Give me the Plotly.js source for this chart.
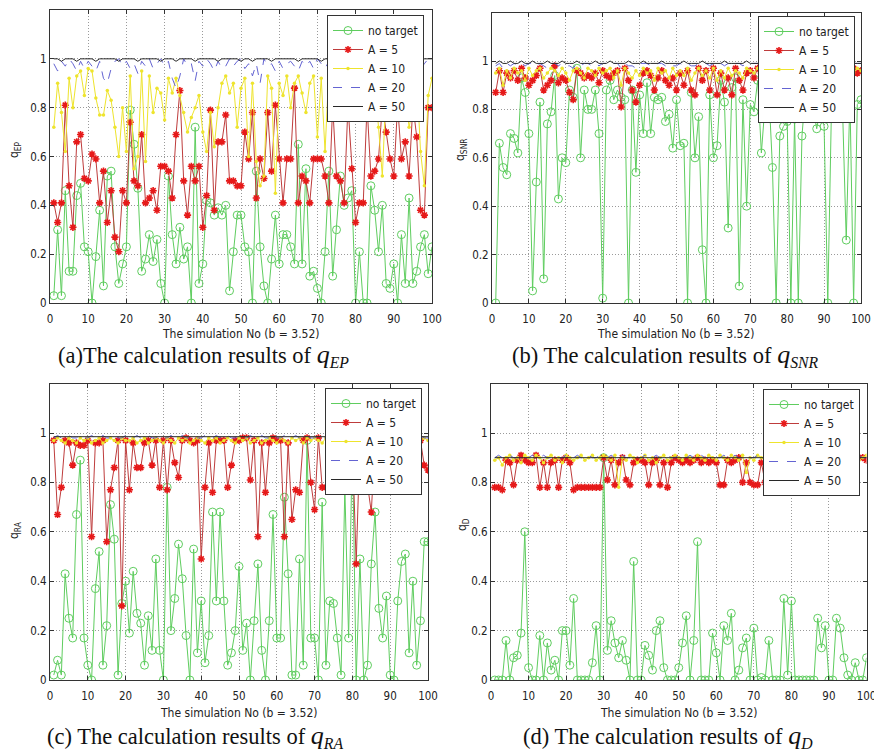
<!DOCTYPE html>
<html>
<head>
<meta charset="utf-8">
<script src="https://cdn.plot.ly/plotly-3.0.1.min.js"></script>
<style>html,body{margin:0;padding:0;background:#fff;}#chart{width:874px;height:752px;}</style>
</head>
<body>
<div id="chart"></div>
<script>
// ---------- DATA ----------
const SERIES_NAMES = ["no target", "A = 5", "A = 10", "A = 20", "A = 50"];
const X_TICKS = [0,10,20,30,40,50,60,70,80,90,100];
const Y_TICKS = [0,0.2,0.4,0.6,0.8,1];
const X_TITLE = "The simulation No (b = 3.52)";
const Y_TITLES = ["q<sub>EP</sub>", "q<sub>SNR</sub>", "q<sub>RA</sub>", "q<sub>D</sub>"];
const CAPTIONS = [
  "(a)The calculation results of <span style='font-size:26px'><i>q</i></span><sub><i>EP</i></sub>",
  "(b) The calculation results of <span style='font-size:26px'><i>q</i></span><sub><i>SNR</i></sub>",
  "(c) The calculation results of <span style='font-size:26px'><i>q</i></span><sub><i>RA</i></sub>",
  "(d) The calculation results of <span style='font-size:26px'><i>q</i></span><sub><i>D</i></sub>"
];

// (a) q_EP
const GREEN_A = [0.03,0.30,0.03,0.46,0.13,0.13,0.44,0.49,0.23,0.21,
0.00,0.19,0.38,0.07,0.52,0.54,0.23,0.08,0.16,0.23,
0.79,0.65,0.47,0.13,0.18,0.28,0.17,0.26,0.08,0.00,
0.52,0.28,0.16,0.31,0.18,0.23,0.00,0.72,0.08,0.16,
0.42,0.41,0.36,0.39,0.36,0.40,0.05,0.21,0.36,0.36,
0.23,0.21,0.00,0.54,0.23,0.07,0.00,0.18,0.36,0.16,
0.28,0.28,0.23,0.16,0.65,0.16,0.55,0.11,0.13,0.06,
0.00,0.21,0.54,0.11,0.30,0.52,0.40,0.43,0.46,0.00,
0.21,0.00,0.00,0.48,0.38,0.21,0.40,0.08,0.06,0.16,
0.00,0.28,0.08,0.43,0.08,0.13,0.23,0.28,0.12,0.23];
const RED_A = [0.41,0.33,0.41,0.81,0.48,0.31,0.66,0.69,0.51,0.50,
0.61,0.59,0.41,0.54,0.33,0.46,0.27,0.21,0.46,0.41,
0.74,0.50,0.48,0.69,0.41,0.43,0.46,0.38,0.56,0.56,
0.54,0.43,0.69,0.87,0.50,0.36,0.56,0.50,0.56,0.31,
0.44,0.79,0.38,0.66,0.66,0.77,0.50,0.50,0.48,0.48,
0.70,0.59,0.78,0.43,0.59,0.51,0.78,0.54,0.81,0.59,
0.41,0.59,0.59,0.88,0.41,0.52,0.50,0.41,0.59,0.59,
0.59,0.52,0.41,0.81,0.52,0.50,0.41,0.81,0.55,0.33,
0.41,0.41,0.81,0.52,0.54,0.59,0.81,0.70,0.59,0.52,
0.81,0.59,0.66,0.52,0.81,0.68,0.38,0.36,0.80,0.80];
const YELLOW_A = [0.72,0.90,0.78,0.62,0.92,0.80,0.93,0.95,0.85,0.96,
0.95,0.84,0.77,0.77,0.87,0.83,0.72,0.60,0.80,0.62,
0.93,0.55,0.60,0.95,0.58,0.93,0.78,0.88,0.86,0.75,
0.92,0.86,0.92,0.85,0.78,0.70,0.76,0.80,0.85,0.70,
0.62,0.78,0.64,0.80,0.90,0.93,0.86,0.90,0.72,0.88,
0.92,0.60,0.90,0.58,0.48,0.52,0.93,0.88,0.45,0.90,
0.85,0.93,0.80,0.90,0.93,0.86,0.78,0.90,0.93,0.68,
0.92,0.62,0.95,0.75,0.88,0.92,0.85,0.90,0.94,0.80,
0.93,0.88,0.95,0.82,0.90,0.72,0.52,0.88,0.93,0.78,
0.90,0.95,0.85,0.72,0.80,0.93,0.62,0.48,0.85,0.92];
const BLUE_A = [0.98,0.95,0.99,0.97,1.00,0.98,0.95,0.99,0.96,0.99,
0.97,0.95,0.99,0.92,0.90,0.96,0.99,1.00,0.97,0.99,
0.96,0.98,0.94,0.99,0.97,1.00,0.96,0.98,1.00,0.97,
0.99,0.92,0.88,0.93,1.00,0.97,0.98,0.91,0.99,0.97,
1.00,0.98,0.95,0.99,0.96,0.97,1.00,0.97,0.99,1.00,
0.96,0.98,0.93,0.98,0.90,1.00,0.97,0.98,0.95,0.99,
0.96,0.98,0.99,0.97,0.95,0.99,0.97,0.99,0.96,1.00,
0.98,0.96,0.99,1.00,0.97,0.99,0.98,0.95,0.99,0.97,
1.00,0.98,0.96,0.99,0.97,1.00,0.95,0.98,0.99,0.97,
0.99,0.96,1.00,0.98,0.97,0.99,0.96,0.98,1.00,0.99];
const BLACK_A = [1.00,1.00,0.99,1.00,1.00,1.00,0.99,1.00,1.00,1.00,
1.00,0.99,1.00,1.00,1.00,1.00,1.00,0.99,1.00,1.00,
1.00,1.00,0.99,1.00,1.00,1.00,1.00,1.00,0.99,1.00,
1.00,1.00,0.99,1.00,1.00,1.00,1.00,0.99,1.00,1.00,
1.00,1.00,1.00,0.99,1.00,1.00,1.00,1.00,1.00,0.99,
1.00,1.00,0.99,1.00,1.00,1.00,1.00,0.99,1.00,1.00,
1.00,1.00,1.00,1.00,0.99,1.00,1.00,1.00,1.00,1.00,
0.99,1.00,1.00,1.00,1.00,0.99,1.00,1.00,1.00,1.00,
1.00,1.00,0.99,1.00,1.00,1.00,1.00,1.00,0.99,1.00,
1.00,1.00,1.00,0.99,1.00,1.00,1.00,1.00,1.00,1.00];

// (b) q_SNR
const GREEN_B = [0.00,0.66,0.56,0.53,0.70,0.68,0.62,0.93,0.87,0.70,
0.05,0.50,0.83,0.10,0.74,0.79,0.94,0.43,0.60,0.58,
0.88,0.85,0.97,0.60,0.88,0.80,0.80,0.88,0.70,0.02,
0.88,0.92,0.84,0.88,0.85,0.84,0.00,0.88,0.54,0.86,
0.70,0.91,0.70,0.85,0.84,0.85,0.75,0.78,0.64,0.84,
0.65,0.66,0.00,0.87,0.60,0.77,0.22,0.00,0.86,0.60,
0.65,0.92,0.83,0.31,0.89,0.93,0.07,0.84,0.40,0.82,
0.79,0.92,0.62,0.82,0.88,0.56,0.00,0.69,0.73,0.75,
0.00,0.76,0.00,0.69,0.88,0.90,0.81,0.72,0.81,0.73,
0.00,0.81,0.85,0.79,0.80,0.26,0.85,0.00,0.82,0.84];
const RED_B = [0.87,0.96,0.87,0.95,0.93,0.96,0.92,0.97,0.93,0.90,
0.92,0.94,0.97,0.88,0.90,0.92,0.98,0.91,0.93,0.92,
0.87,0.84,0.96,0.95,0.93,0.94,0.93,0.95,0.91,0.96,
0.94,0.93,0.95,0.96,0.81,0.97,0.92,0.88,0.83,0.90,
0.95,0.96,0.94,0.88,0.93,0.96,0.92,0.90,0.93,0.88,
0.95,0.90,0.96,0.88,0.86,0.97,0.92,0.96,0.88,0.97,
0.86,0.95,0.88,0.93,0.86,0.97,0.92,0.88,0.95,0.96,
0.93,0.97,0.95,0.92,0.96,0.97,0.94,0.96,0.93,0.95,
0.97,0.92,0.96,0.94,0.97,0.95,0.93,0.96,0.94,0.97,
0.95,0.92,0.96,0.97,0.94,0.96,0.95,0.97,0.95,0.96];
const YELLOW_B = [0.95,0.97,0.90,0.96,0.93,0.97,0.95,0.96,0.92,0.97,
0.94,0.96,0.97,0.93,0.95,0.97,0.96,0.94,0.97,0.95,
0.92,0.96,0.97,0.95,0.93,0.97,0.96,0.94,0.97,0.95,
0.96,0.97,0.93,0.96,0.90,0.97,0.95,0.93,0.96,0.94,
0.97,0.95,0.96,0.92,0.97,0.95,0.96,0.93,0.97,0.94,
0.96,0.94,0.97,0.92,0.95,0.97,0.94,0.96,0.93,0.97,
0.92,0.96,0.93,0.97,0.94,0.96,0.95,0.93,0.97,0.96,
0.95,0.97,0.96,0.94,0.97,0.96,0.95,0.97,0.94,0.96,
0.97,0.95,0.96,0.97,0.95,0.96,0.94,0.97,0.96,0.95,
0.97,0.94,0.96,0.97,0.95,0.97,0.96,0.95,0.97,0.96];
const BLUE_B = [0.98,0.99,0.97,0.99,0.98,0.99,0.98,0.99,0.98,0.99,
0.99,0.98,0.99,0.98,0.97,0.99,0.99,0.98,0.99,0.98,
0.98,0.97,0.99,0.98,0.99,0.99,0.98,0.99,0.98,0.99,
0.99,0.98,0.99,0.99,0.97,0.99,0.98,0.98,0.97,0.99,
0.99,0.99,0.98,0.98,0.99,0.99,0.98,0.99,0.98,0.98,
0.99,0.98,0.99,0.98,0.98,0.99,0.99,0.99,0.98,0.99,
0.98,0.99,0.98,0.99,0.98,0.99,0.99,0.98,0.99,0.99,
0.99,0.99,0.99,0.98,0.99,0.99,0.99,0.99,0.98,0.99,
0.99,0.98,0.99,0.99,0.99,0.99,0.98,0.99,0.99,0.99,
0.99,0.98,0.99,0.99,0.99,0.99,0.99,0.99,0.99,0.99];
const BLACK_B = [0.99,1.00,0.99,0.99,1.00,0.99,0.99,1.00,0.99,0.99,
1.00,0.99,0.99,0.99,1.00,0.99,0.99,0.99,1.00,0.99,
0.99,0.99,1.00,0.99,0.99,0.99,0.99,1.00,0.99,0.99,
0.99,1.00,0.99,0.99,0.99,0.99,1.00,0.99,0.99,0.99,
1.00,0.99,0.99,0.99,0.99,1.00,0.99,0.99,0.99,0.99,
0.99,1.00,0.99,0.99,0.99,0.99,1.00,0.99,0.99,0.99,
0.99,0.99,1.00,0.99,0.99,0.99,0.99,0.99,1.00,0.99,
0.99,0.99,0.99,1.00,0.99,0.99,0.99,0.99,0.99,1.00,
0.99,0.99,0.99,0.99,1.00,0.99,0.99,0.99,0.99,0.99,
1.00,0.99,0.99,0.99,0.99,0.99,1.00,0.99,0.99,0.99];

// (c) q_RA
const GREEN_C = [0.02,0.08,0.02,0.43,0.25,0.17,0.67,0.89,0.17,0.06,
0.00,0.37,0.52,0.06,0.22,0.71,0.57,0.02,0.31,0.40,
0.19,0.44,0.27,0.23,0.06,0.26,0.12,0.49,0.12,0.00,
0.78,0.20,0.33,0.55,0.41,0.18,0.00,0.53,0.11,0.32,
0.07,0.18,0.68,0.32,0.68,0.32,0.06,0.11,0.20,0.46,
0.12,0.23,0.00,0.24,0.47,0.12,0.00,0.24,0.67,0.17,
0.17,0.74,0.43,0.02,0.02,0.49,0.06,0.97,0.17,0.17,
0.00,0.72,0.06,0.32,0.31,0.17,0.02,0.78,0.17,0.97,
0.00,0.49,0.00,0.06,0.47,0.68,0.29,0.17,0.34,0.02,
0.00,0.32,0.48,0.51,0.11,0.40,0.06,0.24,0.56,0.56];
const RED_C = [0.97,0.67,0.78,0.97,0.96,0.87,0.96,0.95,0.95,0.97,
0.58,0.96,0.96,0.97,0.56,0.77,0.86,0.97,0.30,0.97,
0.77,0.96,0.86,0.86,0.96,0.97,0.87,0.97,0.78,0.97,
0.77,0.97,0.88,0.82,0.97,0.98,0.97,0.96,0.97,0.49,
0.78,0.96,0.76,0.97,0.97,0.97,0.78,0.87,0.97,0.97,
0.98,0.98,0.81,0.97,0.58,0.96,0.76,0.96,0.98,0.97,
0.97,0.58,0.96,0.65,0.77,0.76,0.97,0.98,0.80,0.69,
0.98,0.78,0.78,0.97,0.97,0.79,0.79,0.97,0.97,0.97,
0.47,0.97,0.97,0.79,0.68,0.97,0.81,0.97,0.79,0.97,
0.79,0.97,0.97,0.79,0.97,0.97,0.97,0.97,0.87,0.85];
const YELLOW_C = [0.97,0.98,0.97,0.96,0.98,0.97,0.96,0.98,0.97,0.98,
0.96,0.97,0.98,0.96,0.97,0.98,0.97,0.96,0.98,0.97,
0.97,0.98,0.96,0.97,0.98,0.96,0.97,0.98,0.97,0.96,
0.98,0.97,0.96,0.98,0.97,0.98,0.96,0.97,0.98,0.97,
0.96,0.98,0.97,0.98,0.96,0.97,0.98,0.97,0.96,0.98,
0.97,0.98,0.96,0.97,0.98,0.96,0.97,0.98,0.97,0.96,
0.98,0.97,0.96,0.98,0.97,0.98,0.96,0.98,0.97,0.98,
0.97,0.96,0.98,0.97,0.98,0.96,0.97,0.98,0.97,0.96,
0.98,0.97,0.98,0.96,0.97,0.98,0.97,0.96,0.98,0.97,
0.98,0.96,0.97,0.98,0.97,0.96,0.98,0.97,0.98,0.97];
const BLUE_C = [0.98,0.99,0.98,0.98,0.99,0.98,0.98,0.99,0.98,0.98,
0.99,0.98,0.98,0.99,0.98,0.98,0.99,0.98,0.98,0.99,
0.98,0.98,0.99,0.98,0.98,0.99,0.98,0.98,0.99,0.98,
0.98,0.99,0.98,0.98,0.99,0.98,0.98,0.99,0.98,0.98,
0.99,0.98,0.98,0.99,0.98,0.98,0.99,0.98,0.98,0.99,
0.98,0.98,0.99,0.98,0.98,0.99,0.98,0.98,0.99,0.98,
0.98,0.99,0.98,0.98,0.99,0.98,0.98,0.99,0.98,0.98,
0.99,0.98,0.98,0.99,0.98,0.98,0.99,0.98,0.98,0.99,
0.98,0.98,0.99,0.98,0.98,0.99,0.98,0.98,0.99,0.98,
0.98,0.99,0.98,0.98,0.99,0.98,0.98,0.99,0.98,0.98];
const BLACK_C = [0.985,0.985,0.985,0.985,0.985,0.985,0.985,0.985,0.985,0.985,
0.985,0.985,0.985,0.985,0.985,0.985,0.985,0.985,0.985,0.985,
0.985,0.985,0.985,0.985,0.985,0.985,0.985,0.985,0.985,0.985,
0.985,0.985,0.985,0.985,0.985,0.985,0.985,0.985,0.985,0.985,
0.985,0.985,0.985,0.985,0.985,0.985,0.985,0.985,0.985,0.985,
0.985,0.985,0.985,0.985,0.985,0.985,0.985,0.985,0.985,0.985,
0.985,0.985,0.985,0.985,0.985,0.985,0.985,0.985,0.985,0.985,
0.985,0.985,0.985,0.985,0.985,0.985,0.985,0.985,0.985,0.985,
0.985,0.985,0.985,0.985,0.985,0.985,0.985,0.985,0.985,0.985,
0.985,0.985,0.985,0.985,0.985,0.985,0.985,0.985,0.985,0.985];

// (d) q_D
const GREEN_D = [0.00,0.00,0.00,0.16,0.00,0.09,0.10,0.19,0.60,0.05,
0.00,0.00,0.18,0.00,0.15,0.04,0.08,0.00,0.20,0.20,
0.06,0.33,0.00,0.00,0.00,0.00,0.07,0.22,0.00,0.90,
0.12,0.24,0.15,0.09,0.16,0.08,0.00,0.48,0.00,0.00,
0.14,0.10,0.04,0.20,0.24,0.05,0.00,0.00,0.00,0.05,
0.15,0.26,0.00,0.16,0.56,0.00,0.00,0.00,0.19,0.11,
0.00,0.22,0.16,0.27,0.00,0.04,0.13,0.17,0.00,0.21,
0.00,0.01,0.00,0.16,0.00,0.00,0.00,0.33,0.02,0.32,
0.00,0.00,0.00,0.00,0.00,0.00,0.25,0.13,0.22,0.00,
0.00,0.25,0.21,0.09,0.02,0.00,0.07,0.00,0.00,0.09];
const RED_D = [0.78,0.78,0.77,0.89,0.88,0.79,0.89,0.91,0.89,0.88,
0.88,0.91,0.78,0.88,0.78,0.88,0.89,0.78,0.89,0.90,
0.88,0.77,0.78,0.78,0.78,0.78,0.78,0.78,0.78,0.90,
0.81,0.89,0.79,0.88,0.90,0.81,0.79,0.88,0.89,0.89,
0.88,0.79,0.88,0.89,0.79,0.88,0.78,0.88,0.90,0.89,
0.88,0.89,0.88,0.89,0.90,0.88,0.89,0.88,0.89,0.88,
0.79,0.79,0.89,0.88,0.89,0.90,0.80,0.88,0.80,0.79,
0.79,0.88,0.80,0.89,0.80,0.79,0.88,0.80,0.79,0.88,
0.79,0.79,0.80,0.79,0.88,0.89,0.88,0.89,0.88,0.90,
0.89,0.88,0.78,0.78,0.88,0.77,0.88,0.90,0.90,0.89];
const YELLOW_D = [0.89,0.90,0.87,0.90,0.91,0.89,0.90,0.88,0.91,0.90,
0.89,0.91,0.90,0.88,0.90,0.91,0.89,0.90,0.88,0.91,
0.90,0.89,0.90,0.91,0.89,0.90,0.91,0.89,0.90,0.91,
0.90,0.89,0.91,0.78,0.90,0.89,0.91,0.90,0.88,0.90,
0.91,0.89,0.90,0.88,0.90,0.91,0.89,0.90,0.91,0.90,
0.89,0.91,0.90,0.89,0.91,0.90,0.89,0.91,0.90,0.89,
0.91,0.90,0.89,0.91,0.90,0.89,0.91,0.84,0.90,0.89,
0.91,0.90,0.89,0.91,0.90,0.80,0.89,0.90,0.91,0.89,
0.90,0.91,0.89,0.90,0.91,0.89,0.90,0.91,0.89,0.90,
0.91,0.89,0.90,0.91,0.89,0.90,0.91,0.89,0.90,0.91];
const BLUE_D = [0.90,0.91,0.90,0.90,0.91,0.90,0.90,0.91,0.90,0.90,
0.91,0.90,0.90,0.91,0.90,0.90,0.91,0.90,0.90,0.91,
0.90,0.90,0.91,0.90,0.90,0.91,0.90,0.90,0.91,0.90,
0.90,0.91,0.90,0.90,0.91,0.90,0.90,0.91,0.90,0.90,
0.91,0.90,0.90,0.91,0.90,0.90,0.91,0.90,0.90,0.91,
0.90,0.90,0.91,0.90,0.90,0.91,0.90,0.90,0.91,0.90,
0.90,0.91,0.90,0.90,0.91,0.90,0.90,0.91,0.90,0.90,
0.91,0.90,0.90,0.91,0.90,0.90,0.91,0.90,0.90,0.91,
0.90,0.90,0.91,0.90,0.90,0.91,0.90,0.90,0.91,0.90,
0.90,0.91,0.90,0.90,0.91,0.90,0.90,0.91,0.90,0.90];
const BLACK_D = [0.90,0.90,0.90,0.90,0.90,0.90,0.90,0.90,0.90,0.90,
0.90,0.90,0.90,0.90,0.90,0.90,0.90,0.90,0.90,0.90,
0.90,0.90,0.90,0.90,0.90,0.90,0.90,0.90,0.90,0.90,
0.90,0.90,0.90,0.90,0.90,0.90,0.90,0.90,0.90,0.90,
0.90,0.90,0.90,0.90,0.90,0.90,0.90,0.90,0.90,0.90,
0.90,0.90,0.90,0.90,0.90,0.90,0.90,0.90,0.90,0.90,
0.90,0.90,0.90,0.90,0.90,0.90,0.90,0.90,0.90,0.90,
0.90,0.90,0.90,0.90,0.90,0.90,0.90,0.90,0.90,0.90,
0.90,0.90,0.90,0.90,0.90,0.90,0.90,0.90,0.90,0.90,
0.90,0.90,0.90,0.90,0.90,0.90,0.90,0.90,0.90,0.90];

const SIM_NO = GREEN_A.map((_, k) => k + 1);

// ---------- STYLE / LAYOUT ----------
const W = 874, H = 752;
const px = v => v / W, py = v => 1 - v / H;
const SANS = "Liberation Sans Narrow, DejaVu Sans Condensed, Liberation Sans, Arial, sans-serif";
const SERIF = "Liberation Serif, Times New Roman, serif";

const STYLES = [
  {mode: "lines+markers", line: {color: "rgb(95,205,95)", width: 1},
   marker: {symbol: "circle-open", size: 8, color: "rgb(95,205,95)", line: {width: 1}}},
  {mode: "lines+markers", line: {color: "rgb(190,60,60)", width: 1},
   marker: {symbol: "asterisk-open", size: 6, color: "rgb(230,25,25)", line: {width: 1.6, color: "rgb(230,25,25)"}}},
  {mode: "lines+markers", line: {color: "rgb(238,228,45)", width: 1},
   marker: {symbol: "circle", size: 3.5, color: "rgb(238,228,45)"}},
  {mode: "lines", line: {color: "rgb(100,100,210)", width: 1, dash: "dash"}},
  {mode: "lines", line: {color: "rgb(40,40,40)", width: 1}}
];

const PANELS = [
  {series: [GREEN_A, RED_A, YELLOW_A, BLUE_A, BLACK_A], xd: [50, 432], yd: [10, 303], leg: [424, 15]},
  {series: [GREEN_B, RED_B, YELLOW_B, BLUE_B, BLACK_B], xd: [492, 861], yd: [12.6, 303], leg: [855, 16]},
  {series: [GREEN_C, RED_C, YELLOW_C, BLUE_C, BLACK_C], xd: [50, 428], yd: [383.6, 680], leg: [422, 388]},
  {series: [GREEN_D, RED_D, YELLOW_D, BLUE_D, BLACK_D], xd: [491, 866.5], yd: [383.6, 680], leg: [860, 389]}
];
const YLAB = [[15, 150], [461, 150], [15, 530], [463, 525]];
const XLAB = [[241, 334], [676, 334], [239, 713], [679, 713]];
const CAP = [[56, 356], [510, 356], [45, 736], [521, 736]];

const traces = [];
const layout = {
  width: W, height: H, margin: {l: 0, r: 0, t: 0, b: 0},
  paper_bgcolor: "#fff", plot_bgcolor: "#fff", showlegend: true,
  font: {family: SANS, size: 11, color: "#222"},
  annotations: []
};

PANELS.forEach((p, k) => {
  const n = k === 0 ? "" : String(k + 1);
  const legName = "legend" + n;
  p.series.forEach((vals, s) => {
    traces.push(Object.assign({
      type: "scatter", x: SIM_NO, y: vals, name: SERIES_NAMES[s],
      xaxis: "x" + n, yaxis: "y" + n, legend: legName
    }, JSON.parse(JSON.stringify(STYLES[s]))));
  });
  const axCommon = {
    showline: true, linecolor: "#333", linewidth: 1, mirror: "ticks",
    ticks: "inside", ticklen: 4, tickcolor: "#333",
    showgrid: true, gridcolor: "#9a9a9a", griddash: "1px,2px", gridwidth: 1,
    zeroline: false, tickfont: {family: SANS, size: 11.5, color: "#222"}, fixedrange: true,
    ticklabeloverflow: "allow"
  };
  layout["xaxis" + n] = Object.assign({}, axCommon, {
    domain: [px(p.xd[0]), px(p.xd[1])], range: [0, 100], tickvals: X_TICKS,
    anchor: "y" + n, ticklabelstandoff: 5
  });
  layout["yaxis" + n] = Object.assign({}, axCommon, {
    domain: [py(p.yd[1]), py(p.yd[0])], range: [0, 1.2], tickvals: Y_TICKS,
    anchor: "x" + n
  });
  layout[legName] = {
    x: px(p.leg[0]), y: py(p.leg[1]), xanchor: "right", yanchor: "top",
    bgcolor: "#fff", bordercolor: "#333", borderwidth: 1,
    font: {family: SANS, size: 12, color: "#222"}, tracegroupgap: 0, itemwidth: 30
  };
  layout.annotations.push({
    xref: "paper", yref: "paper", x: px(YLAB[k][0]), y: py(YLAB[k][1]), textangle: -90,
    xanchor: "center", yanchor: "middle",
    text: Y_TITLES[k], showarrow: false, font: {family: SANS, size: 12, color: "#222"}
  });
  layout.annotations.push({
    xref: "paper", yref: "paper", x: px(XLAB[k][0]), y: py(XLAB[k][1]),
    xanchor: "center", yanchor: "middle",
    text: X_TITLE, showarrow: false, font: {family: SANS, size: 12, color: "#222"}
  });
  layout.annotations.push({
    xref: "paper", yref: "paper", x: px(CAP[k][0]), y: py(CAP[k][1]),
    xanchor: "left", yanchor: "middle",
    text: CAPTIONS[k], showarrow: false, font: {family: SERIF, size: 22.5, color: "#111"}
  });
});

Plotly.newPlot("chart", traces, layout, {displayModeBar: false, staticPlot: true});
</script>
</body>
</html>
